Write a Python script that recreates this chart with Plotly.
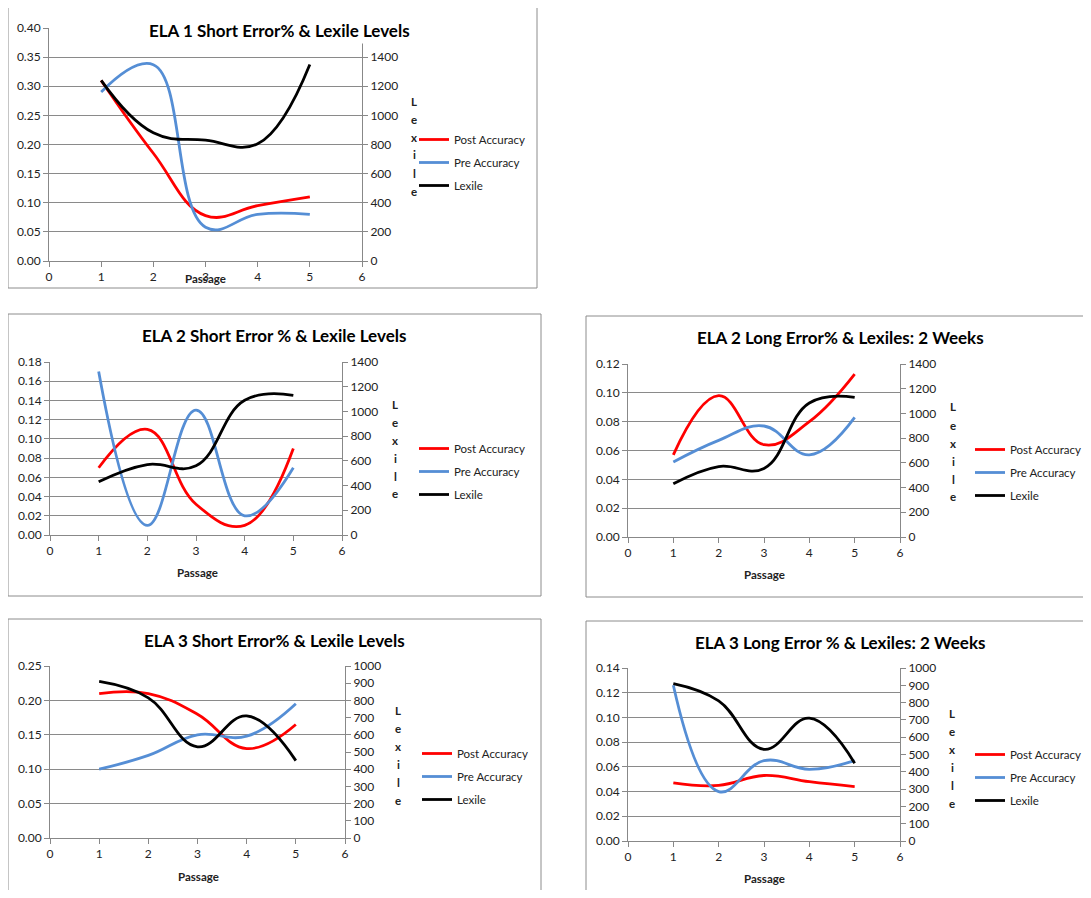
import plotly.graph_objects as go

# The page body has an 8px default margin, so the figure is sized to fit
# inside the 1091x898 window and all pixel positions are offset by it.
PAGE_W, PAGE_H = 1091, 898
OFF = 8
W, H = PAGE_W - 2 * OFF, PAGE_H - 2 * OFF
FONT = "Lato, Liberation Sans, sans-serif"

passage = [1, 2, 3, 4, 5]
series_names = ["Post Accuracy", "Pre Accuracy", "Lexile"]

titles = [
    "ELA 1 Short Error% & Lexile Levels",
    "ELA 2 Short Error % & Lexile Levels",
    "ELA 2 Long Error% & Lexiles: 2 Weeks",
    "ELA 3 Short Error% & Lexile Levels",
    "ELA 3 Long Error % & Lexiles: 2 Weeks",
]

ela1_short_post = [0.31, 0.185, 0.078, 0.095, 0.11]
ela1_short_pre = [0.29, 0.337, 0.058, 0.08, 0.08]
ela1_short_lexile = [1240, 880, 830, 805, 1350]

ela2_short_post = [0.07, 0.11, 0.032, 0.01, 0.09]
ela2_short_pre = [0.17, 0.01, 0.13, 0.02, 0.07]
ela2_short_lexile = [430, 570, 560, 1090, 1130]

ela2_long_post = [0.057, 0.098, 0.064, 0.08, 0.113]
ela2_long_pre = [0.052, 0.067, 0.077, 0.057, 0.083]
ela2_long_lexile = [430, 570, 555, 1085, 1130]

ela3_short_post = [0.21, 0.21, 0.18, 0.13, 0.165]
ela3_short_pre = [0.10, 0.12, 0.15, 0.148, 0.195]
ela3_short_lexile = [910, 815, 530, 710, 450]

ela3_long_post = [0.047, 0.045, 0.053, 0.048, 0.044]
ela3_long_pre = [0.126, 0.040, 0.065, 0.058, 0.065]
ela3_long_lexile = [910, 810, 530, 710, 450]

left_ranges = [(0.40, 0.05), (0.18, 0.02), (0.12, 0.02), (0.25, 0.05), (0.14, 0.02)]
right_ranges = [(1600, 200, 1400), (1400, 200, 1400), (1400, 200, 1400),
                (1000, 100, 1000), (1000, 100, 1000)]

data = [
    (ela1_short_post, ela1_short_pre, ela1_short_lexile),
    (ela2_short_post, ela2_short_pre, ela2_short_lexile),
    (ela2_long_post, ela2_long_pre, ela2_long_lexile),
    (ela3_short_post, ela3_short_pre, ela3_short_lexile),
    (ela3_long_post, ela3_long_pre, ela3_long_lexile),
]

# geometry in page pixels: (plot x0, plot x1, plot y_bottom, plot y_top)
plots = [(49, 362, 261, 28), (50, 342, 535, 362), (628, 900, 537, 364),
         (50, 345, 838, 666), (628, 900, 841, 668)]
boxes = [(8, 7, 537, 288), (8, 314, 541, 596), (586, 316, 1110, 597),
         (8, 619, 541, 910), (586, 621, 1110, 910)]
title_pos = [(279, 31), (274, 335), (840, 337), (274, 640), (840, 642)]
passage_pos = [(205, 278), (197, 572), (764, 574), (198, 876), (764, 878)]
lexile_pos = [(414, 101), (395, 404), (953, 407), (398, 710), (952, 713)]
legend_pos = [(414, 125), (414, 434), (970, 435), (417, 739), (970, 740)]

colors = ["#FF0000", "#558ED5", "#000000"]


def fx(p):
    return (p - OFF) / W


def fy(p):
    return 1 - (p - OFF) / H


fig = go.Figure()
layout = dict(
    width=W, height=H, margin=dict(l=0, r=0, t=0, b=0, autoexpand=False),
    paper_bgcolor="white", plot_bgcolor="white",
    font=dict(family=FONT, size=12, color="#222222"),
    showlegend=True,
)
annotations = []
shapes = []

axis_gray = "#888888"
tick_font = dict(size=12, color="#222222")

for i in range(5):
    n = i + 1
    xa = "x" if n == 1 else f"x{n}"
    ya = "y" if n == 1 else f"y{n}"
    ya2 = f"y{n + 5}"
    leg = "legend" if n == 1 else f"legend{n}"
    post, pre, lex = data[i]
    for name, vals, col, yax in zip(series_names, (post, pre, lex), colors,
                                    (ya, ya, ya2)):
        fig.add_trace(go.Scatter(
            x=passage, y=vals, name=name, mode="lines",
            line=dict(color=col, width=2.8, shape="spline", smoothing=1.2),
            xaxis=xa, yaxis=yax, legend=leg, legendgroup=f"{n}{name}",
            hoverinfo="skip"))
    x0, x1, yb, yt = plots[i]
    lmax, ldt = left_ranges[i]
    rmax, rdt, rtop = right_ranges[i]
    layout["xaxis" if n == 1 else f"xaxis{n}"] = dict(
        domain=[fx(x0), fx(x1)], range=[0, 6], dtick=1, tick0=0,
        anchor=ya, showline=True, linecolor=axis_gray, linewidth=1,
        ticks="outside", ticklen=5, tickcolor=axis_gray, showgrid=False,
        zeroline=False, tickfont=tick_font)
    layout["yaxis" if n == 1 else f"yaxis{n}"] = dict(
        domain=[fy(yb), fy(yt)], range=[0, lmax], dtick=ldt, tick0=0,
        anchor=xa, showline=True, linecolor=axis_gray, linewidth=1,
        ticks="outside", ticklen=5, tickcolor=axis_gray, tickformat=".2f",
        showgrid=True, gridcolor="#8a8a8a", gridwidth=1, zeroline=False,
        tickfont=tick_font)
    layout[f"yaxis{n + 5}"] = dict(
        range=[0, rmax], tickmode="array",
        tickvals=list(range(0, rtop + 1, rdt)), overlaying=ya, anchor=xa,
        side="right", showline=True, linecolor=axis_gray, linewidth=1,
        ticks="outside", ticklen=5, tickcolor=axis_gray, showgrid=False,
        zeroline=False, tickfont=tick_font)
    lx, ly = legend_pos[i]
    layout[leg] = dict(
        x=fx(lx), y=fy(ly), xanchor="left", yanchor="top",
        xref="container", yref="container",
        bgcolor="rgba(0,0,0,0)", font=dict(size=11.5, color="#222222"),
        itemwidth=30, tracegroupgap=4, traceorder="grouped")
    bx0, by0, bx1, by1 = boxes[i]
    shapes.append(dict(type="rect", xref="paper", yref="paper",
                       x0=fx(bx0), x1=fx(bx1), y0=fy(by1), y1=fy(by0),
                       line=dict(color="#8c8c8c", width=1), layer="below"))
    tx, ty = title_pos[i]
    annotations.append(dict(
        text=f"<b>{titles[i]}</b>", x=fx(tx), y=fy(ty), xref="paper",
        yref="paper", showarrow=False, xanchor="center", yanchor="middle",
        font=dict(size=17, color="#000000"),
        bgcolor="white" if n == 1 else "rgba(0,0,0,0)", borderpad=2))
    px_, py_ = passage_pos[i]
    annotations.append(dict(
        text="<b>Passage</b>", x=fx(px_), y=fy(py_), xref="paper",
        yref="paper", showarrow=False, xanchor="center", yanchor="middle",
        font=dict(size=11.5, color="#222222")))
    lxp, lyp = lexile_pos[i]
    for k, ch in enumerate("Lexile"):
        annotations.append(dict(
            text=f"<b>{ch}</b>", x=fx(lxp), y=fy(lyp + k * 18), xref="paper",
            yref="paper", showarrow=False, xanchor="center", yanchor="middle",
            font=dict(size=11.5, color="#222222")))

layout["annotations"] = annotations
layout["shapes"] = shapes
fig.update_layout(**layout)
fig.write_html("out.html")
